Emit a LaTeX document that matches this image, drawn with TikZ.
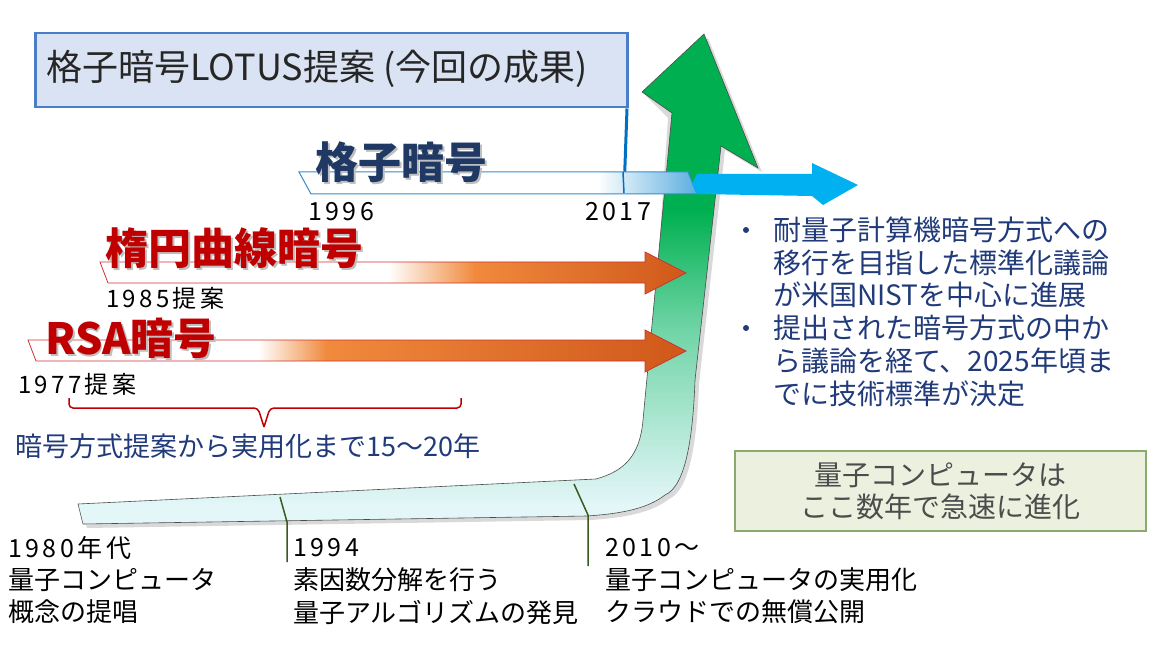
\documentclass[tikz,border=0pt]{standalone}
\usepackage{fontspec}
\setmainfont{Noto Sans CJK JP}
\newfontfamily\widef[LetterSpace=14]{Noto Sans CJK JP}
\definecolor{navy}{HTML}{1F3864}
\definecolor{txtblue}{HTML}{203A7A}
\definecolor{redj}{HTML}{C00000}
\definecolor{boxblue}{HTML}{DAE3F3}
\definecolor{boxedge}{HTML}{4A7EC8}
\definecolor{lineblue}{HTML}{0070C0}
\definecolor{cyanA}{HTML}{00B0F0}
\definecolor{bandblue}{HTML}{5BAEE0}
\definecolor{orA}{HTML}{F08A3C}
\definecolor{orB}{HTML}{D0581A}
\definecolor{grA}{HTML}{00B050}
\definecolor{grB}{HTML}{6FD4A6}
\definecolor{grC}{HTML}{E3F6F8}
\definecolor{tick}{HTML}{3A5A1E}
\definecolor{gboxf}{HTML}{EBF1DE}
\definecolor{gboxe}{HTML}{8CAA6E}
\pgfdeclarehorizontalshading{ellsh}{100bp}{color(0bp)=(white); color(49.6bp)=(white); color(57bp)=(orA); color(75bp)=(orB); color(100bp)=(orB)}
\pgfdeclarehorizontalshading{rsash}{100bp}{color(0bp)=(white); color(42.5bp)=(white); color(47.7bp)=(orA); color(75bp)=(orB); color(100bp)=(orB)}
\pgfdeclarehorizontalshading{bandsh}{100bp}{color(0bp)=(white); color(62.5bp)=(white); color(75bp)=(bandblue); color(100bp)=(bandblue)}
\pgfdeclareverticalshading{bigsh}{100bp}{color(0bp)=(grC); color(27bp)=(grC); color(45bp)=(grB); color(57bp)=(grA); color(100bp)=(grA)}
\tikzset{
  lbl/.style={anchor=west, inner sep=0pt, font=\fontsize{26}{30}\selectfont},
  wlbl/.style={anchor=west, inner sep=0pt, font=\widef\fontsize{25}{30}\selectfont},
  bul/.style={anchor=west, inner sep=0pt, text=txtblue, font=\fontsize{28}{30}\selectfont},
  ttl/.style={anchor=west, inner sep=0pt, font=\bfseries\fontsize{43}{46}\selectfont},
  shd/.style={text=black!25},
  ticky/.style={draw=tick, line width=1.5pt}
}
\begin{document}
\begin{tikzpicture}[x=1pt,y=-1pt]
\useasboundingbox (0,0) rectangle (1161,652);
% big green arrow
\fill[black!15] (82,509) -- (602,482) .. controls (630,474) and (644,458) .. (647,424) -- (668,118) -- (646,96) -- (708,38) -- (762,172) -- (725,150) -- (699,384) .. controls (697,440) and (690,490) .. (669,499) .. controls (650,514) and (620,518) .. (591,520) -- (87,528) -- cycle;
\draw[black!70, line width=0.6pt, shading=bigsh] (78,504) -- (596,479) .. controls (625,471) and (640,455) .. (643,420) -- (672,113) -- (642,92) -- (704,34) -- (758,168) -- (721,146) -- (695,380) .. controls (693,436) and (686,486) .. (665,495) .. controls (646,510) and (616,514) .. (587,516) -- (83,524) -- cycle;
% ticks
\coordinate (t1a) at (280,497); \coordinate (t1b) at (287,522); \coordinate (t1c) at (287,562);
\coordinate (t2a) at (574,484); \coordinate (t2b) at (588,515); \coordinate (t2c) at (588,566);
\draw[ticky] (t1a) -- (t1b) -- (t1c);
\draw[ticky] (t2a) -- (t2b) -- (t2c);
% title box
\node[draw=boxedge, fill=boxblue, line width=2.5pt, minimum width=592pt, minimum height=74pt, anchor=north west, inner sep=0pt] (tbox) at (34,32) {};
\node[lbl, font=\fontsize{36}{40}\selectfont, text=black!85] (ttext) at (46,69) {格子暗号LOTUS提案 (今回の成果)};
\coordinate (vl) at (624,193);
\draw[lineblue, line width=3pt] (tbox.south east) ++(-1.5,0) -- (vl);
% lattice band
\draw[draw=lineblue!80, line width=1pt, shading=bandsh] (299,172) -- (688,172) -- (697,194) -- (311,194) -- cycle;
\draw[draw=lineblue, line width=1.5pt] (623,172) -- (vl);
\fill[cyanA] (697,174) -- (812,174) -- (812,163) -- (858,185) -- (823,205) -- (812,196) -- (697,194) -- (692,184) -- cycle;
\node[ttl, shd] at (317,164) {格子暗号};
\node[ttl, text=navy] (lattice) at (315,162) {格子暗号};
\node[wlbl] (y96) at (308,212) {1996};
\node[wlbl] (y17) at (585,212) {2017};
% elliptic
\draw[draw=redj!80, line width=0.8pt, shading=ellsh] (100,262) -- (645,262) -- (645,252) -- (686,273) -- (645,294) -- (645,283) -- (108,283) -- cycle;
\node[ttl, shd] at (107,250) {楕円曲線暗号};
\node[ttl, text=redj] (ell) at (105,248) {楕円曲線暗号};
\node[wlbl, font=\widef\fontsize{24}{28}\selectfont] (y85) at (106,298) {1985提案};
% RSA
\draw[draw=redj!80, line width=0.8pt, shading=rsash] (28,340) -- (645,340) -- (645,330) -- (686,351) -- (645,372) -- (645,361) -- (36,361) -- cycle;
\node[ttl, shd] at (47,340) {RSA暗号};
\node[ttl, text=redj] (rsa) at (45,338) {RSA暗号};
\node[wlbl, font=\widef\fontsize{24}{28}\selectfont] (y77) at (18,384) {1977提案};
% brace
\coordinate (bl) at (69,398); \coordinate (br) at (461,398);
\draw[redj, line width=1.5pt, rounded corners=4pt] (bl) -- (69,408) -- (258,408) -- (264,427);
\draw[redj, line width=1.5pt, rounded corners=4pt] (br) -- (461,408) -- (270,408) -- (264,427);
\node[lbl, text=txtblue, font=\fontsize{27}{30}\selectfont] (span) at (15,446) {暗号方式提案から実用化まで15～20年};
% right bullets
\foreach \yy in {230,328} \fill[txtblue] (746,\yy) circle (3pt);
\node[bul] (b1) at (773,230) {耐量子計算機暗号方式への};
\node[bul] (b2) at (773,263) {移行を目指した標準化議論};
\node[bul] (b3) at (773,295) {が米国NISTを中心に進展};
\node[bul] (b4) at (773,328) {提出された暗号方式の中か};
\node[bul] (b5) at (773,361) {ら議論を経て、2025年頃ま};
\node[bul] (b6) at (773,394) {でに技術標準が決定};
% green box
\node[draw=gboxe, fill=gboxf, line width=2pt, minimum width=411pt, minimum height=80pt, anchor=north west, inner sep=0pt] (gbox) at (734,450) {};
\node[align=center, text=black!70, font=\fontsize{28}{32}\selectfont] (gtext) at (gbox.center) {量子コンピュータは\\ここ数年で急速に進化};
% bottom labels
\node[wlbl] (l1a) at (8,548) {1980年代};
\node[lbl] (l1b) at (8,580) {量子コンピュータ};
\node[lbl] (l1c) at (8,612) {概念の提唱};
\node[wlbl] (l2a) at (293,548) {1994};
\node[lbl] (l2b) at (293,580) {素因数分解を行う};
\node[lbl] (l2c) at (293,612) {量子アルゴリズムの発見};
\node[wlbl] (l3a) at (605,548) {2010～};
\node[lbl] (l3b) at (605,580) {量子コンピュータの実用化};
\node[lbl] (l3c) at (605,612) {クラウドでの無償公開};
\end{tikzpicture}
\end{document}
